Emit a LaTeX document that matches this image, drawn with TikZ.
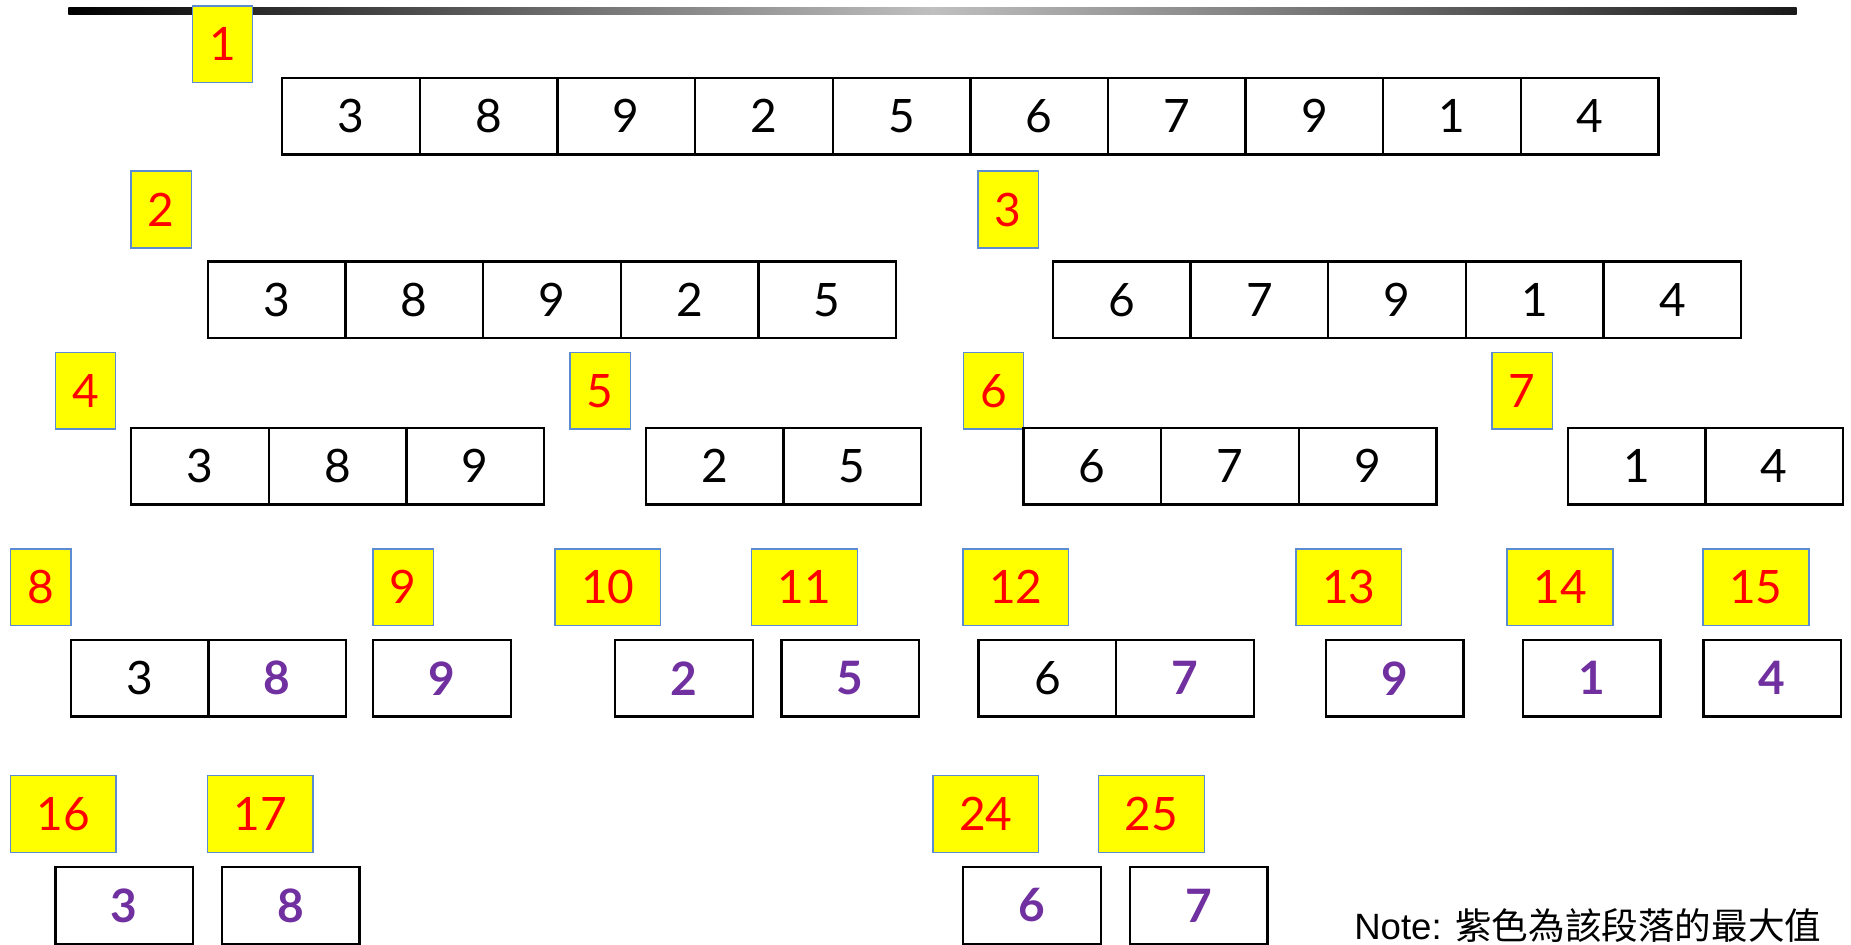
\documentclass[tikz,border=0pt]{standalone}
\usepackage{fontspec}
\setmainfont{Lato}
\newfontfamily\notefont{Liberation Sans}
\newfontfamily\cjkfont{Noto Sans CJK TC}
\definecolor{labred}{HTML}{FF0000}
\definecolor{labyellow}{HTML}{FFFF00}
\definecolor{labblue}{HTML}{5B8BD0}
\definecolor{maxpurple}{HTML}{7030A0}
\tikzset{
  cell/.style={draw=black, line width=2pt, minimum width=116.6pt, minimum height=65pt, inner sep=0pt, font=\fontsize{39}{39}\selectfont},
  maxcell/.style={cell, text=maxpurple, font=\fontsize{39}{39}\selectfont\bfseries},
  lab/.style={draw=labblue, fill=labyellow, line width=1.2pt, minimum height=65pt, minimum width=51pt, inner sep=0pt, text=labred, font=\fontsize{39}{39}\selectfont},
  widelab/.style={lab, minimum width=89.5pt},
}
\begin{document}
\begin{tikzpicture}[x=1pt, y=-1pt]
\useasboundingbox (0,0) rectangle (1568,800);
% top bar
\shade[left color=black, right color=black!90, middle color=black!25] (58,6) rectangle (1522,12);
% row 1
\node[lab] (l1) at (188.5,37.5) {1};
\foreach \v [count=\i] in {3,8,9,2,5,6,7,9,1,4}
  \node[cell] (a\i) at ({239+58.3+116.6*(\i-1)},98.5) {\v};
% row 2
\node[lab] (l2) at (136.5,177.5) {2};
\node[lab] (l3) at (854,177.5) {3};
\foreach \v [count=\i] in {3,8,9,2,5}
  \node[cell] (b\i) at ({176+58.3+116.6*(\i-1)},254) {\v};
\foreach \v [count=\i] in {6,7,9,1,4}
  \node[cell] (c\i) at ({892+58.3+116.6*(\i-1)},254) {\v};
% row 3
\node[lab] (l4) at (72.5,331) {4};
\node[lab] (l5) at (508.5,331) {5};
\node[lab] (l6) at (841.5,331) {6};
\node[lab] (l7) at (1289.5,331) {7};
\foreach \v [count=\i] in {3,8,9}
  \node[cell] (d\i) at ({111+58.3+116.6*(\i-1)},395) {\v};
\foreach \v [count=\i] in {2,5}
  \node[cell] (e\i) at ({547+58.3+116.6*(\i-1)},395) {\v};
\foreach \v [count=\i] in {6,7,9}
  \node[cell] (f\i) at ({867+58.3+116.6*(\i-1)},395) {\v};
\foreach \v [count=\i] in {1,4}
  \node[cell] (g\i) at ({1328+58.3+116.6*(\i-1)},395) {\v};
% row 4
\node[lab] (l8) at (34.5,497.5) {8};
\node[lab] (l9) at (341.5,497.5) {9};
\node[widelab] (l10) at (515,497.5) {10};
\node[widelab] (l11) at (681.5,497.5) {11};
\node[widelab] (l12) at (860.5,497.5) {12};
\node[widelab] (l13) at (1142.5,497.5) {13};
\node[widelab] (l14) at (1321.5,497.5) {14};
\node[widelab] (l15) at (1487.5,497.5) {15};
\node[cell] (h1) at (118.3,574.5) {3};
\node[maxcell] (h2) at (234.9,574.5) {8};
\node[maxcell] (h3) at (374.3,574.5) {9};
\node[maxcell] (h4) at (579.3,574.5) {2};
\node[maxcell] (h5) at (720.3,574.5) {5};
\node[cell] (h6) at (887.3,574.5) {6};
\node[maxcell] (h7) at (1003.9,574.5) {7};
\node[maxcell] (h8) at (1181.3,574.5) {9};
\node[maxcell] (h9) at (1348.3,574.5) {1};
\node[maxcell] (h10) at (1501.3,574.5) {4};
% row 5
\node[widelab] (l16) at (53.5,689.5) {16};
\node[widelab] (l17) at (220.5,689.5) {17};
\node[widelab] (l24) at (835,689.5) {24};
\node[widelab] (l25) at (975.5,689.5) {25};
\node[maxcell] (k1) at (105.3,767) {3};
\node[maxcell] (k2) at (246.3,767) {8};
\node[maxcell] (k3) at (874.3,767) {6};
\node[maxcell] (k4) at (1015.3,767) {7};
% note
\node[anchor=base east, inner sep=0pt, font=\fontsize{31}{31}\selectfont] (note) at (1543,796) {\notefont Note: \cjkfont 紫色為該段落的最大值};
\end{tikzpicture}
\end{document}
